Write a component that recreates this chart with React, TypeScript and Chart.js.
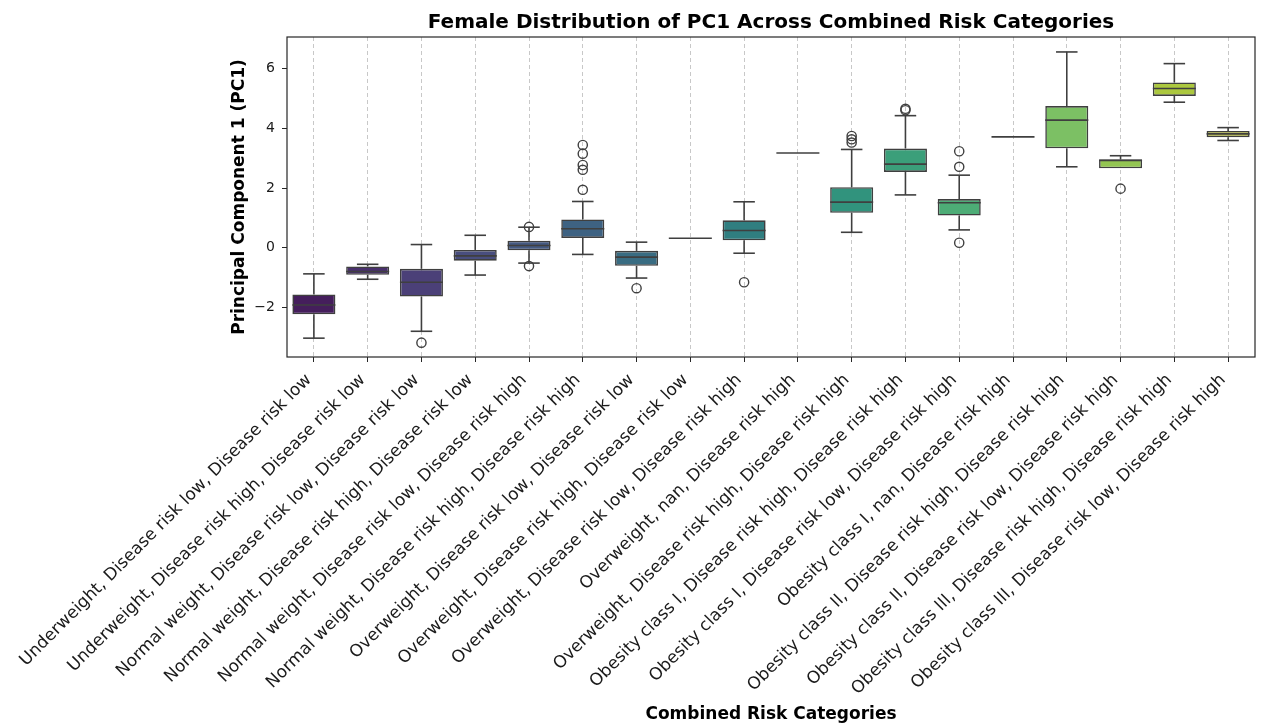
import { useEffect, useRef } from 'react';
import { Chart, registerables } from 'chart.js';

Chart.register(...registerables);

// Combined risk groups (BMI class, disease risk, disease risk)
const categories = [
  'Underweight, Disease risk low, Disease risk low',
  'Underweight, Disease risk high, Disease risk low',
  'Normal weight, Disease risk low, Disease risk low',
  'Normal weight, Disease risk high, Disease risk low',
  'Normal weight, Disease risk low, Disease risk high',
  'Normal weight, Disease risk high, Disease risk high',
  'Overweight, Disease risk low, Disease risk low',
  'Overweight, Disease risk high, Disease risk low',
  'Overweight, Disease risk low, Disease risk high',
  'Overweight, nan, Disease risk high',
  'Overweight, Disease risk high, Disease risk high',
  'Obesity class I, Disease risk high, Disease risk high',
  'Obesity class I, Disease risk low, Disease risk high',
  'Obesity class I, nan, Disease risk high',
  'Obesity class II, Disease risk high, Disease risk high',
  'Obesity class II, Disease risk low, Disease risk high',
  'Obesity class III, Disease risk high, Disease risk high',
  'Obesity class III, Disease risk low, Disease risk high',
];

// Five-number summaries of PC1 per group
const whiskerLow = [-3.02, -1.05, -2.79, -0.91, -0.51, -0.22, -1.01, 0.32, -0.18, 3.17, 0.52, 1.77, 0.6, 3.71, 2.71, 2.66, 4.87, 3.59];
const q1 = [-2.22, -0.9, -1.63, -0.43, -0.08, 0.33, -0.6, 0.32, 0.25, 3.17, 1.17, 2.54, 1.08, 3.71, 3.33, 2.66, 5.08, 3.7];
const median = [-1.91, -0.79, -1.15, -0.27, 0.08, 0.64, -0.31, 0.32, 0.58, 3.17, 1.53, 2.8, 1.51, 3.71, 4.27, 2.92, 5.33, 3.81];
const q3 = [-1.56, -0.62, -0.7, -0.07, 0.24, 0.95, -0.1, 0.32, 0.92, 3.17, 2.03, 3.32, 1.63, 3.71, 4.74, 2.96, 5.53, 3.91];
const whiskerHigh = [-0.87, -0.55, 0.11, 0.42, 0.69, 1.55, 0.19, 0.32, 1.54, 3.17, 3.29, 4.42, 2.43, 3.71, 6.55, 3.08, 6.16, 4.02];

// Points beyond the whiskers, per group
const outliers: number[][] = [
  [], [], [-3.17], [], [0.7, -0.61], [3.44, 3.15, 2.77, 2.61, 1.94], [-1.35], [], [-1.15], [],
  [3.74, 3.63, 3.52], [4.65, 4.6], [3.23, 2.71, 0.17], [], [], [1.98], [], [],
];

const yTicks = [-2, 0, 2, 4, 6];
const yMin = -3.65;
const yMax = 7.05;

const TITLE = 'Female Distribution of PC1 Across Combined Risk Categories';
const X_TITLE = 'Combined Risk Categories';
const Y_TITLE = 'Principal Component 1 (PC1)';

// viridis colormap sampled every 0.05
const VIRIDIS = [
  '#440154', '#471365', '#482475', '#463480', '#414487', '#3b528b', '#355f8d',
  '#2f6c8e', '#2a788e', '#25848e', '#21918c', '#1e9c89', '#22a884', '#2fb47c',
  '#44bf70', '#5ec962', '#7ad151', '#9bd93c', '#bddf26', '#dfe318', '#fde725',
];

function hexToRgb(h: string): number[] {
  return [1, 3, 5].map((i) => parseInt(h.slice(i, i + 2), 16) / 255);
}

function viridis(t: number): number[] {
  const p = t * (VIRIDIS.length - 1);
  const i = Math.min(Math.floor(p), VIRIDIS.length - 2);
  const f = p - i;
  const a = hexToRgb(VIRIDIS[i]);
  const b = hexToRgb(VIRIDIS[i + 1]);
  return a.map((v, k) => v + (b[k] - v) * f);
}

// reduce HLS saturation, the way box fills are muted
function desaturate(rgb: number[], prop: number): string {
  const [r, g, b] = rgb;
  const mx = Math.max(r, g, b);
  const mn = Math.min(r, g, b);
  const l = (mx + mn) / 2;
  let h = 0;
  let s = 0;
  if (mx !== mn) {
    const d = mx - mn;
    s = l > 0.5 ? d / (2 - mx - mn) : d / (mx + mn);
    if (mx === r) h = ((g - b) / d + (g < b ? 6 : 0)) / 6;
    else if (mx === g) h = ((b - r) / d + 2) / 6;
    else h = ((r - g) / d + 4) / 6;
  }
  s *= prop;
  const q = l < 0.5 ? l * (1 + s) : l + s - l * s;
  const p = 2 * l - q;
  const hue = (t: number) => {
    if (t < 0) t += 1;
    if (t > 1) t -= 1;
    if (t < 1 / 6) return p + (q - p) * 6 * t;
    if (t < 1 / 2) return q;
    if (t < 2 / 3) return p + (q - p) * (2 / 3 - t) * 6;
    return p;
  };
  const out = s === 0 ? [l, l, l] : [hue(h + 1 / 3), hue(h), hue(h - 1 / 3)];
  return `rgb(${out.map((v) => Math.round(v * 255)).join(',')})`;
}

const LINE = '#3f3f3f';
const FONT = "'DejaVu Sans', sans-serif";

export default function App() {
  const ref = useRef<HTMLCanvasElement>(null);

  useEffect(() => {
    const canvas = ref.current;
    if (!canvas) return;
    const n = categories.length;
    const fills = categories.map((_, i) => desaturate(viridis((i + 1) / (n + 1)), 0.75));

    const boxData = categories.map((_, i) => (q3[i] > q1[i] ? [q1[i], q3[i]] : null));
    const outlierData: { x: string; y: number }[] = [];
    outliers.forEach((vals, i) => vals.forEach((v) => outlierData.push({ x: categories[i], y: v })));

    // whiskers, caps and medians drawn through the chart's scales
    const whiskerPlugin = {
      id: 'whiskers',
      afterDatasetsDraw(chart: any) {
        const { ctx, scales } = chart;
        const xs = scales.x;
        const ys = scales.y;
        const slot = xs.getPixelForValue(1) - xs.getPixelForValue(0);
        const half = (slot * 0.8) / 2;
        const cap = half / 2;
        ctx.save();
        ctx.strokeStyle = LINE;
        ctx.lineWidth = 1.6;
        ctx.lineCap = 'butt';
        const seg = (x1: number, y1: number, x2: number, y2: number) => {
          ctx.beginPath();
          ctx.moveTo(x1, y1);
          ctx.lineTo(x2, y2);
          ctx.stroke();
        };
        categories.forEach((_, i) => {
          const cx = xs.getPixelForValue(i);
          const yLo = ys.getPixelForValue(whiskerLow[i]);
          const yQ1 = ys.getPixelForValue(q1[i]);
          const yQ3 = ys.getPixelForValue(q3[i]);
          const yHi = ys.getPixelForValue(whiskerHigh[i]);
          const yMed = ys.getPixelForValue(median[i]);
          if (Math.abs(yQ3 - yHi) > 0.5) {
            seg(cx, yQ3, cx, yHi);
            seg(cx - cap, yHi, cx + cap, yHi);
          }
          if (Math.abs(yLo - yQ1) > 0.5) {
            seg(cx, yQ1, cx, yLo);
            seg(cx - cap, yLo, cx + cap, yLo);
          }
          seg(cx - half, yMed, cx + half, yMed);
        });
        ctx.restore();
      },
    };

    // full rectangular frame around the plot area
    const framePlugin = {
      id: 'frame',
      afterDraw(chart: any) {
        const { ctx, chartArea: a } = chart;
        ctx.save();
        ctx.strokeStyle = '#262626';
        ctx.lineWidth = 1.2;
        ctx.strokeRect(a.left, a.top, a.right - a.left, a.bottom - a.top);
        ctx.restore();
      },
    };

    const chart = new Chart(canvas, {
      type: 'bar',
      data: {
        labels: categories,
        datasets: [
          {
            type: 'scatter',
            label: 'outliers',
            data: outlierData as any,
            pointRadius: 4.6,
            pointBorderWidth: 1.4,
            pointBorderColor: LINE,
            pointBackgroundColor: 'rgba(0,0,0,0)',
            pointHoverRadius: 4.6,
          } as any,
          {
            type: 'bar',
            label: 'PC1',
            data: boxData as any,
            backgroundColor: fills,
            borderColor: LINE,
            borderWidth: 1.6,
            borderSkipped: false,
            categoryPercentage: 0.8,
            barPercentage: 1,
          } as any,
        ],
      },
      options: {
        responsive: false,
        devicePixelRatio: 1,
        animation: false,
        layout: { padding: { top: 0, left: 0, right: 8, bottom: 0 } },
        plugins: {
          legend: { display: false },
          tooltip: { enabled: false },
          title: {
            display: true,
            text: TITLE,
            fullSize: false,
            color: '#000',
            font: { family: FONT, size: 20, weight: 'bold', lineHeight: 1.2 },
            padding: { top: 11, bottom: 2 },
          },
        },
        scales: {
          x: {
            type: 'category',
            offset: true,
            grid: {
              display: true,
              offset: false,
              color: '#c8c8c8',
              lineWidth: 1,
              drawTicks: true,
              tickLength: 5,
              tickColor: '#262626',
              tickWidth: 1,
              tickBorderDash: [],
            } as any,
            border: { display: false, dash: [4, 3] },
            ticks: {
              autoSkip: false,
              minRotation: 45,
              maxRotation: 45,
              padding: 8,
              labelOffset: -5,
              color: '#1a1a1a',
              font: { family: FONT, size: 17 },
            },
            title: {
              display: true,
              text: X_TITLE,
              color: '#000',
              font: { family: FONT, size: 17, weight: 'bold', lineHeight: 1 },
              padding: { top: 0, bottom: 0 },
            },
            afterFit(scale: any) {
              scale.height = 366;
            },
          },
          y: {
            type: 'linear',
            min: yMin,
            max: yMax,
            grid: {
              drawOnChartArea: false,
              drawTicks: true,
              tickLength: 5,
              tickColor: '#262626',
            },
            border: { display: false },
            ticks: {
              padding: 7,
              color: '#1a1a1a',
              font: { family: FONT, size: 14 },
              callback: (v: any) => String(v).replace('-', '\u2212'),
            },
            afterBuildTicks(scale: any) {
              scale.ticks = yTicks.map((v) => ({ value: v }));
            },
            title: {
              display: true,
              text: Y_TITLE,
              color: '#000',
              font: { family: FONT, size: 17, weight: 'bold', lineHeight: 1.2 },
              padding: { top: 229.8, bottom: 0 },
            },
            afterFit(scale: any) {
              scale.width = 287;
            },
          },
        },
      },
      plugins: [whiskerPlugin, framePlugin],
    });

    return () => chart.destroy();
  }, []);

  return (
    <div style={{ position: 'fixed', left: 0, top: 0, width: 1263, height: 723, background: '#fff' }}>
      <canvas ref={ref} width={1263} height={723} style={{ display: 'block' }} />
    </div>
  );
}
